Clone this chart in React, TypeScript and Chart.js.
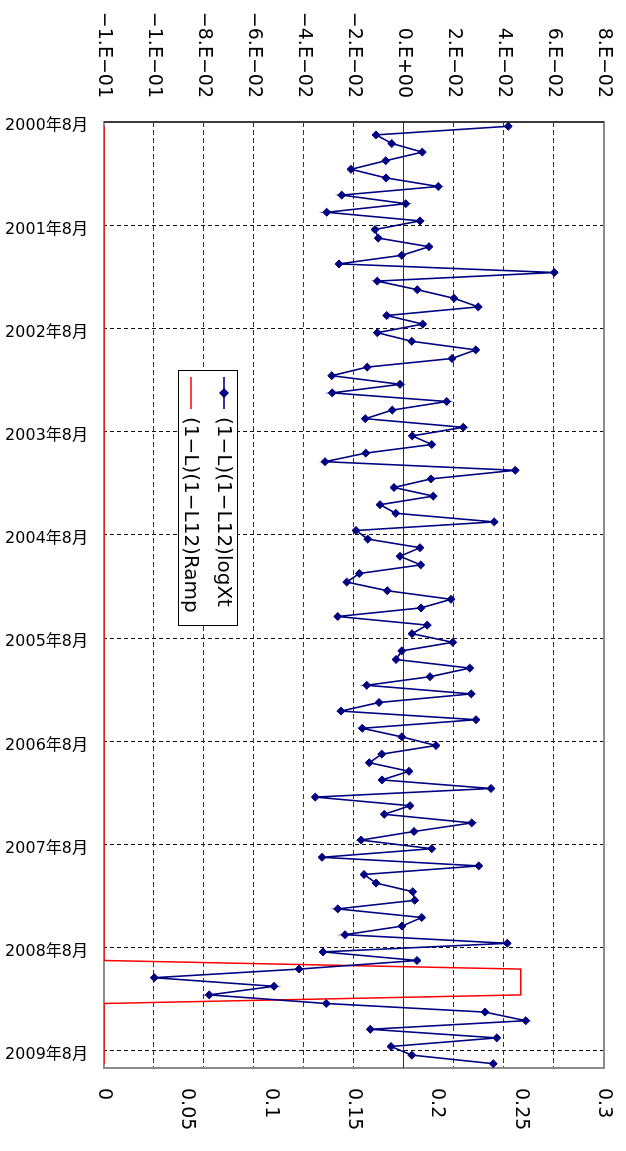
import { useEffect, useRef } from 'react';
import { Chart, registerables } from 'chart.js';

Chart.register(...registerables);

// Canvas is laid out landscape and turned a quarter turn clockwise on the page.
const CANVAS_W = 1151;
const CANVAS_H = 626;
const FONT = "'DejaVu Sans', 'Noto Sans CJK JP', sans-serif";

// Monthly categories, August 2000 through September 2009
const START_YEAR = 2000;
const START_MONTH = 8;
const MONTH_COUNT = 110;
const months: string[] = [];
for (let i = 0; i < MONTH_COUNT; i++) {
  const m = START_MONTH - 1 + i;
  months.push(`${START_YEAR + Math.floor(m / 12)}年${(m % 12) + 1}月`);
}

const SERIES_LOGXT = '(1−L)(1−L12)logXt';
const SERIES_RAMP = '(1−L)(1−L12)Ramp';

// (1-L)(1-L12)logXt, one row per twelve months starting 2000-08
const logXt = [
  0.0417, -0.0112, -0.0049, 0.0073, -0.0073, -0.0212, -0.0072, 0.0137, -0.0249, 0.0007, -0.0309, 0.0064,
  -0.0116, -0.0103, 0.0100, -0.0009, -0.0260, 0.0601, -0.0107, 0.0053, 0.0200, 0.0297, -0.0069, 0.0075,
  -0.0107, 0.0031, 0.0287, 0.0192, -0.0147, -0.0289, -0.0016, -0.0287, 0.0171, -0.0047, -0.0155, 0.0237,
  0.0033, 0.0111, -0.0153, -0.0316, 0.0445, 0.0108, -0.0040, 0.0117, -0.0096, -0.0033, 0.0361, -0.0192,
  -0.0145, 0.0064, -0.0016, 0.0067, -0.0179, -0.0229, -0.0067, 0.0188, 0.0068, -0.0265, 0.0093, 0.0032,
  0.0195, -0.0009, -0.0032, 0.0263, 0.0104, -0.0149, 0.0269, -0.0100, -0.0252, 0.0288, -0.0167, -0.0009,
  0.0128, -0.0089, -0.0139, 0.0020, -0.0088, 0.0348, -0.0355, 0.0024, -0.0079, 0.0271, 0.0040, -0.0172,
  0.0111, -0.0328, 0.0299, -0.0160, -0.0112, 0.0035, 0.0043, -0.0265, 0.0071, -0.0008, -0.0236, 0.0413,
  -0.0324, 0.0052, -0.0420, -0.0999, -0.0520, -0.0779, -0.0311, 0.0324, 0.0487, -0.0135, 0.0371, -0.0052,
  0.0031, 0.0357,
];

// (1-L)(1-L12)Ramp on the secondary axis
const ramp = [
  0, 0, 0, 0, 0, 0, 0, 0, 0, 0, 0, 0,
  0, 0, 0, 0, 0, 0, 0, 0, 0, 0, 0, 0,
  0, 0, 0, 0, 0, 0, 0, 0, 0, 0, 0, 0,
  0, 0, 0, 0, 0, 0, 0, 0, 0, 0, 0, 0,
  0, 0, 0, 0, 0, 0, 0, 0, 0, 0, 0, 0,
  0, 0, 0, 0, 0, 0, 0, 0, 0, 0, 0, 0,
  0, 0, 0, 0, 0, 0, 0, 0, 0, 0, 0, 0,
  0, 0, 0, 0, 0, 0, 0, 0, 0, 0, 0, 0,
  0, 0, 0.25, 0.25, 0.25, 0.25, 0, 0, 0, 0, 0, 0,
  0, 0,
];

// Axis ranges
const primaryAxis = { min: -0.12, max: 0.08, step: 0.02 };
const secondaryAxis = { min: 0, max: 0.3, step: 0.05 };
const LABEL_EVERY = 12;

// Excel-style "0.E+00" number format
function sciLabel(v: number): string {
  if (Math.abs(v) < 1e-12) return '0.E+00';
  let e = Math.floor(Math.log10(Math.abs(v)) + 1e-9);
  let m = Math.round(Math.abs(v) / Math.pow(10, e));
  if (m >= 10) {
    m = 1;
    e += 1;
  }
  const sign = v < 0 ? '−' : '';
  const es = e < 0 ? '−' : '+';
  return `${sign}${m}.E${es}${String(Math.abs(e)).padStart(2, '0')}`;
}

const near = (a: number, b: number) => Math.abs(a - b) < 1e-9;

// Keep the value axes from reserving extra room for half-height end labels
const fixVerticalAxis = (width: number) => (s: any) => {
  s.width = width;
  s.paddingTop = 0;
  s.paddingBottom = 0;
};

// Plot frame, value-axis line and the zero line
const framePlugin = {
  id: 'frame',
  beforeDatasetsDraw(chart: any) {
    const { ctx, chartArea: a, scales } = chart;
    ctx.save();
    ctx.strokeStyle = '#8c8c8c';
    ctx.lineWidth = 2;
    ctx.strokeRect(a.left, a.top, a.right - a.left, a.bottom - a.top);
    ctx.strokeStyle = '#3c3c3c';
    ctx.beginPath();
    ctx.moveTo(a.left, a.top);
    ctx.lineTo(a.left, a.bottom);
    ctx.stroke();
    const y0 = Math.round(scales.y.getPixelForValue(0)) + 0.5;
    ctx.lineWidth = 1;
    ctx.strokeStyle = '#333';
    ctx.beginPath();
    ctx.moveTo(a.left, y0);
    ctx.lineTo(a.right, y0);
    ctx.stroke();
    ctx.restore();
  },
};

// Boxed legend placed inside the plot area
const boxLegendPlugin = {
  id: 'boxLegend',
  afterDatasetsDraw(chart: any, _args: any, opts: any) {
    const { ctx } = chart;
    const { x, y, w, h, rows } = opts;
    ctx.save();
    ctx.fillStyle = '#fff';
    ctx.fillRect(x, y, w, h);
    ctx.strokeStyle = '#000';
    ctx.lineWidth = 1;
    ctx.strokeRect(x + 0.5, y + 0.5, w, h);
    ctx.font = `20px ${FONT}`;
    ctx.textBaseline = 'middle';
    ctx.textAlign = 'left';
    chart.data.datasets.forEach((ds: any, i: number) => {
      const ry = y + rows[i];
      const lx0 = x + 7;
      const lx1 = x + 39;
      ctx.strokeStyle = ds.borderColor;
      ctx.lineWidth = ds.borderWidth;
      ctx.beginPath();
      ctx.moveTo(lx0, ry);
      ctx.lineTo(lx1, ry);
      ctx.stroke();
      if (ds.pointRadius > 0) {
        const cx = (lx0 + lx1) / 2;
        const r = 5;
        ctx.fillStyle = ds.pointBackgroundColor;
        ctx.beginPath();
        ctx.moveTo(cx, ry - r);
        ctx.lineTo(cx + r, ry);
        ctx.lineTo(cx, ry + r);
        ctx.lineTo(cx - r, ry);
        ctx.closePath();
        ctx.fill();
      }
      ctx.fillStyle = '#000';
      ctx.fillText(ds.label, x + 47, ry + 1);
    });
    ctx.restore();
  },
};

export default function App() {
  const canvasRef = useRef<HTMLCanvasElement>(null);

  useEffect(() => {
    const canvas = canvasRef.current;
    if (!canvas) return;
    document.body.style.overflow = 'hidden';

    const chart = new Chart(canvas, {
      type: 'line',
      data: {
        labels: months,
        datasets: [
          {
            label: SERIES_LOGXT,
            data: logXt,
            yAxisID: 'y',
            borderColor: '#000080',
            backgroundColor: '#000080',
            borderWidth: 1.6,
            pointStyle: 'rectRot',
            pointRadius: 4,
            pointBorderWidth: 1,
            pointBackgroundColor: '#000080',
            pointBorderColor: '#000080',
            tension: 0,
          },
          {
            label: SERIES_RAMP,
            data: ramp,
            yAxisID: 'y2',
            borderColor: '#ff0000',
            backgroundColor: '#ff0000',
            borderWidth: 1.5,
            pointRadius: 0,
            tension: 0,
          },
        ],
      },
      options: {
        animation: false,
        responsive: false,
        devicePixelRatio: 1,
        layout: { padding: { top: 22, left: 0, right: 0, bottom: 0 } },
        font: { family: FONT },
        plugins: {
          legend: { display: false },
          tooltip: { enabled: false },
          boxLegend: { x: 370, y: 388, w: 255, h: 59, rows: [14, 47] },
        } as any,
        scales: {
          x: {
            type: 'category',
            position: 'bottom',
            offset: true,
            grid: {
              offset: true,
              drawTicks: false,
              lineWidth: 1,
              color: (ctx: any) =>
                typeof ctx.index === 'number' && ctx.index > 0 && ctx.index % LABEL_EVERY === 0
                  ? '#111'
                  : 'rgba(0,0,0,0)',
            },
            border: { display: false, dash: [4, 3] },
            ticks: {
              autoSkip: false,
              minRotation: 90,
              maxRotation: 90,
              padding: 16,
              color: '#000',
              font: { family: FONT, size: 16 },
              callback: (_v: any, i: number) => (i % LABEL_EVERY === 0 ? months[i] : ''),
            },
            afterFit: (s: any) => {
              s.height = 104;
              s.paddingLeft = 0;
              s.paddingRight = 0;
            },
          },
          y: {
            type: 'linear',
            position: 'left',
            min: primaryAxis.min,
            max: primaryAxis.max,
            grid: {
              drawTicks: false,
              lineWidth: 1,
              color: (ctx: any) => {
                const v = ctx.tick ? ctx.tick.value : undefined;
                if (v === undefined) return 'rgba(0,0,0,0)';
                if (near(v, 0) || near(v, primaryAxis.min) || near(v, primaryAxis.max)) return 'rgba(0,0,0,0)';
                return '#333';
              },
            },
            border: { display: false, dash: [5, 3] },
            ticks: {
              stepSize: primaryAxis.step,
              padding: 24,
              color: '#000',
              font: { family: FONT, size: 19 },
              callback: (v: any) => sciLabel(Number(v)),
            },
            afterFit: fixVerticalAxis(122),
          },
          y2: {
            type: 'linear',
            position: 'right',
            min: secondaryAxis.min,
            max: secondaryAxis.max,
            grid: { display: false, drawTicks: false },
            border: { display: false },
            ticks: {
              stepSize: secondaryAxis.step,
              padding: 20,
              color: '#000',
              font: { family: FONT, size: 19 },
              callback: (v: any) => String(Math.round(Number(v) * 100) / 100),
            },
            afterFit: fixVerticalAxis(83),
          },
        },
      },
      plugins: [framePlugin, boxLegendPlugin],
    } as any);

    return () => chart.destroy();
  }, []);

  return (
    <div
      style={{
        position: 'absolute',
        left: 0,
        top: 0,
        width: CANVAS_W,
        height: CANVAS_H,
        transformOrigin: '0 0',
        transform: `translate(${CANVAS_H}px, 0) rotate(90deg)`,
        background: '#fff',
      }}
    >
      <canvas
        ref={canvasRef}
        width={CANVAS_W}
        height={CANVAS_H}
        style={{ display: 'block', width: CANVAS_W, height: CANVAS_H }}
      />
    </div>
  );
}
